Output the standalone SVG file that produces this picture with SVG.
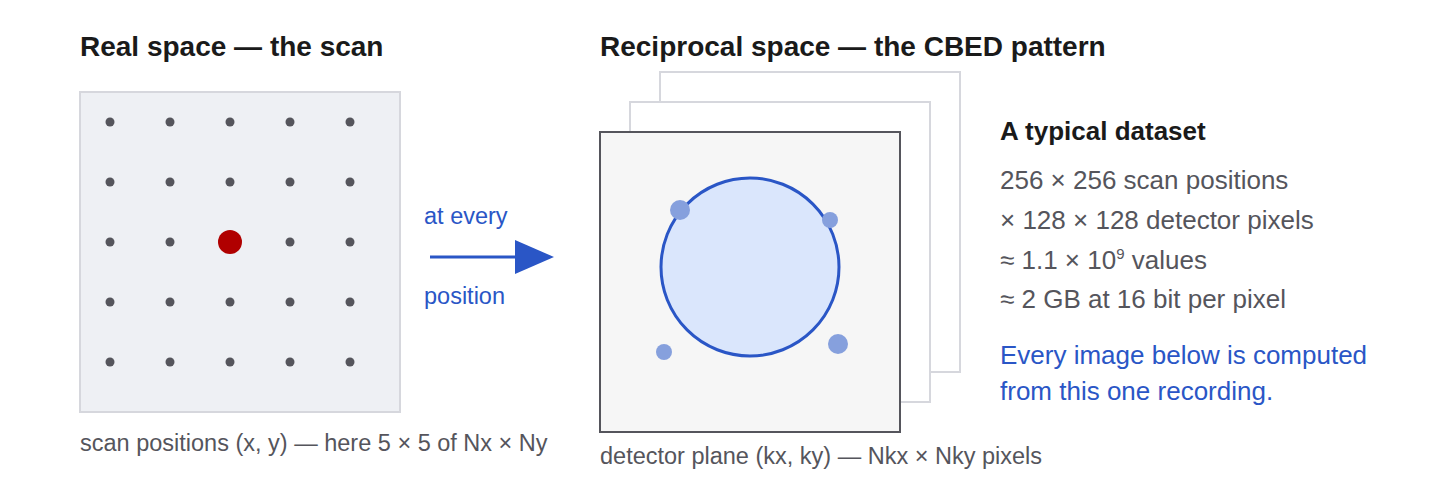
<svg xmlns="http://www.w3.org/2000/svg" width="1440" height="480" viewBox="0 0 1440 480">
<style>
text{font-family:"Liberation Sans",Arial,sans-serif}
.t{font-size:28px;font-weight:bold;fill:#1a1a1a}
.c{font-size:23.5px;fill:#55555c}
.b{font-size:26px;fill:#55555c}
.blue{fill:#2a56c6}
.d{fill:#55555c}
.s{fill:#86a0dd}
</style>
<rect width="1440" height="480" fill="#fff"/>
<text class="t" x="80" y="56">Real space — the scan</text>
<text class="t" x="600" y="56">Reciprocal space — the CBED pattern</text>
<g id="scan">
<rect x="80" y="92" width="320" height="320" fill="#eef0f4" stroke="#d6d7dd" stroke-width="2"/>
<g class="d">
<circle cx="110" cy="122" r="4.5"/><circle cx="170" cy="122" r="4.5"/><circle cx="230" cy="122" r="4.5"/><circle cx="290" cy="122" r="4.5"/><circle cx="350" cy="122" r="4.5"/>
<circle cx="110" cy="182" r="4.5"/><circle cx="170" cy="182" r="4.5"/><circle cx="230" cy="182" r="4.5"/><circle cx="290" cy="182" r="4.5"/><circle cx="350" cy="182" r="4.5"/>
<circle cx="110" cy="242" r="4.5"/><circle cx="170" cy="242" r="4.5"/><circle cx="290" cy="242" r="4.5"/><circle cx="350" cy="242" r="4.5"/>
<circle cx="110" cy="302" r="4.5"/><circle cx="170" cy="302" r="4.5"/><circle cx="230" cy="302" r="4.5"/><circle cx="290" cy="302" r="4.5"/><circle cx="350" cy="302" r="4.5"/>
<circle cx="110" cy="362" r="4.5"/><circle cx="170" cy="362" r="4.5"/><circle cx="230" cy="362" r="4.5"/><circle cx="290" cy="362" r="4.5"/><circle cx="350" cy="362" r="4.5"/>
</g>
<circle cx="230" cy="242" r="12" fill="#b00000"/>
<text class="c" x="80" y="451">scan positions (x, y) — here 5 × 5 of Nx × Ny</text>
</g>
<g id="connectors">
<line x1="430" y1="257" x2="518" y2="257" stroke="#2a56c6" stroke-width="3"/>
<polygon points="515,240 554,257 515,274" fill="#2a56c6"/>
<text class="c blue" x="424" y="224">at every</text>
<text class="c blue" x="424" y="304">position</text>
</g>
<g id="detector">
<rect x="660" y="72" width="300" height="300" fill="#fff" stroke="#d6d7dd" stroke-width="2"/>
<rect x="630" y="102" width="300" height="300" fill="#fff" stroke="#d6d7dd" stroke-width="2"/>
<rect x="600" y="132" width="300" height="300" fill="#f6f6f6" stroke="#55555c" stroke-width="2"/>
<circle cx="750" cy="267" r="89" fill="#dae6fc" stroke="#2a56c6" stroke-width="3"/>
<circle class="s" cx="680" cy="210" r="10"/>
<circle class="s" cx="830" cy="220" r="8"/>
<circle class="s" cx="664" cy="352" r="8"/>
<circle class="s" cx="838" cy="344" r="10"/>
<text class="c" x="600" y="464">detector plane (kx, ky) — Nkx × Nky pixels</text>
</g>
<g id="dataset">
<text x="1000" y="140" style="font-size:26px;font-weight:bold;fill:#1a1a1a">A typical dataset</text>
<text class="b" x="1000" y="189">256 × 256 scan positions</text>
<text class="b" x="1000" y="229">× 128 × 128 detector pixels</text>
<text class="b" x="1000" y="269">≈ 1.1 × 10<tspan dy="-10" font-size="15">9</tspan><tspan dy="10"> values</tspan></text>
<text class="b" x="1000" y="308">≈ 2 GB at 16 bit per pixel</text>
<text class="b blue" x="1000" y="364">Every image below is computed</text>
<text class="b blue" x="1000" y="400">from this one recording.</text>
</g>
</svg>
